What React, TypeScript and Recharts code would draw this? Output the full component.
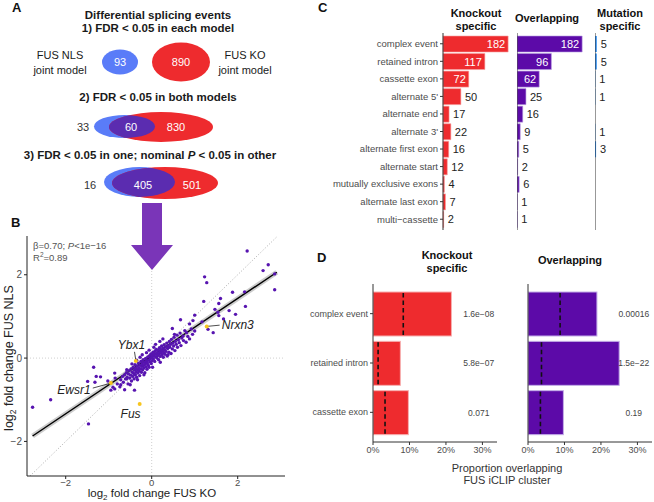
import React from 'react';
import {
  ScatterChart, Scatter, BarChart, Bar, XAxis, YAxis, ReferenceLine, LabelList,
} from 'recharts';

const FONT = '"Liberation Sans", Arial, Helvetica, sans-serif';
const KO_COLOR = '#ee2b2e';
const OV_COLOR = '#5c0aa8';
const MUT_COLOR = '#2a8df2';
const DOT_COLOR = '#5714b0';
const HL_COLOR = '#f7c51e';
const NLS_COLOR = '#5a7cf8';
const VENN_OVERLAP = '#5b2cb0';

// ---- panel B: scatter of log2 fold changes (KO, NLS)
const outlierPts = [
  [2.22, 2.57], [2.71, 2.24], [2.59, 2.10], [2.86, 2.02], [2.86, 1.64], [1.23, 1.95], [1.28, 1.81],
  [1.88, 1.58], [2.16, 1.59], [1.60, 1.43], [1.56, 1.31], [1.21, 1.36], [2.18, 1.24], [1.95, 1.05],
  [1.80, 1.14], [1.54, 1.10], [1.56, 1.02], [1.47, 1.17], [1.0, 1.03], [1.67, 0.94], [0.67, 0.92],
  [0.96, 0.90], [0.88, 0.82], [1.17, 0.87], [1.31, 0.69], [1.43, 0.61], [1.0, 0.65], [0.81, 0.61],
  [0.48, 0.71], [0.53, 0.57], [0.73, 0.53],
  [-2.77, -1.18], [-2.35, -1.0], [-1.47, -1.58], [-1.35, -0.22], [-1.29, -0.44], [-1.49, -0.56],
  [-1.32, -0.58], [-1.19, -0.45], [-1.02, -0.55], [-0.86, -0.36], [-0.95, -0.77], [-0.72, -0.64],
  [-0.63, -0.76], [-0.40, -0.77], [-0.74, -0.69], [-0.58, -0.50], [-0.86, -0.74],
];
const clusterPts = [
  [-0.72, -0.52], [-0.68, -0.44], [-0.66, -0.58], [-0.63, -0.40], [-0.61, -0.50], [-0.59, -0.35],
  [-0.57, -0.46], [-0.55, -0.62], [-0.54, -0.38], [-0.52, -0.30], [-0.51, -0.48], [-0.49, -0.41],
  [-0.48, -0.26], [-0.47, -0.55], [-0.45, -0.34], [-0.44, -0.44], [-0.43, -0.22], [-0.42, -0.37],
  [-0.41, -0.50], [-0.40, -0.29], [-0.39, -0.16], [-0.38, -0.40], [-0.37, -0.25], [-0.36, -0.33],
  [-0.35, -0.46], [-0.34, -0.19], [-0.33, -0.28], [-0.32, -0.36], [-0.31, -0.12], [-0.30, -0.23],
  [-0.29, -0.31], [-0.28, -0.42], [-0.27, -0.17], [-0.26, -0.26], [-0.25, -0.08], [-0.24, -0.34],
  [-0.23, -0.20], [-0.22, -0.13], [-0.21, -0.28], [-0.20, -0.04], [-0.19, -0.18], [-0.18, -0.24],
  [-0.17, -0.10], [-0.16, -0.35], [-0.15, -0.15], [-0.14, -0.01], [-0.13, -0.21], [-0.12, -0.07],
  [-0.11, -0.27], [-0.10, -0.12], [-0.09, 0.03], [-0.08, -0.17], [-0.07, -0.05], [-0.06, -0.22],
  [-0.05, 0.06], [-0.04, -0.09], [-0.03, -0.01], [-0.02, 0.10], [-0.01, -0.13], [0.00, 0.02],
  [0.01, -0.06], [0.02, 0.08], [0.03, 0.14], [0.04, -0.02], [0.05, 0.05], [0.06, 0.11],
  [0.07, -0.08], [0.08, 0.17], [0.09, 0.03], [0.10, 0.09], [0.11, 0.21], [0.12, 0.00],
  [0.13, 0.13], [0.14, 0.06], [0.15, 0.19], [0.16, -0.04], [0.17, 0.10], [0.18, 0.25],
  [0.19, 0.15], [0.20, 0.04], [0.21, 0.20], [0.22, 0.12], [0.23, 0.29], [0.24, 0.08],
  [0.25, 0.17], [0.26, 0.24], [0.27, 0.02], [0.28, 0.13], [0.29, 0.32], [0.30, 0.20],
  [0.31, 0.09], [0.32, 0.27], [0.33, 0.16], [0.35, 0.36], [0.36, 0.05], [0.37, 0.23],
  [0.38, 0.30], [0.40, 0.14], [0.41, 0.40], [0.42, 0.26], [0.44, 0.33], [0.45, 0.11],
  [0.46, 0.45], [0.48, 0.22], [0.49, 0.36], [0.51, 0.29], [0.52, 0.50], [0.54, 0.18],
  [0.55, 0.40], [0.57, 0.33], [0.59, 0.55], [0.60, 0.26], [0.62, 0.44], [0.64, 0.37],
  [0.66, 0.60], [0.68, 0.30], [0.70, 0.48], [0.74, 0.42], [0.77, 0.66], [0.80, 0.38],
  [0.84, 0.52], [0.88, 0.46], [0.92, 0.70], [0.95, 0.57], [-0.80, -0.62], [-0.85, -0.48],
  [-0.90, -0.70], [-0.22, 0.08], [-0.06, 0.19], [0.09, 0.33], [0.19, 0.40], [-0.35, -0.05],
  [-0.58, -0.28], [-0.46, -0.14], [-0.27, 0.02], [-0.12, 0.13], [0.05, 0.26], [0.26, 0.46],
  [-0.50, -0.64], [-0.33, -0.52], [-0.18, -0.40], [0.02, -0.22], [0.20, -0.10], [0.38, 0.08],
];
const genePts = [
  { x: 1.28, y: 0.76 }, { x: -0.37, y: -0.07 }, { x: -0.95, y: -0.60 }, { x: -0.28, y: -1.10 },
];
const geneLabels = [
  { x: 1.63, y: 0.69, label: 'Nrxn3', anchor: 'start' },
  { x: -0.47, y: 0.21, label: 'Ybx1', anchor: 'middle' },
  { x: -1.42, y: -0.86, label: 'Ewsr1', anchor: 'end' },
  { x: -0.49, y: -1.43, label: 'Fus', anchor: 'middle' },
];
const leaders = [
  [[1.28, 0.76], [1.58, 0.79]],
  [[-0.40, 0.15], [-0.37, -0.05]],
  [[-1.37, -0.72], [-0.98, -0.61]],
];
const regLine = [[-2.77, -1.87], [2.91, 2.06]];
const X_DOMAIN = [-2.9, 3.1];
const Y_DOMAIN = [-2.83, 2.93];
const scatterTicks = [-2, 0, 2];

// ---- panel C: event type counts
const eventTypes = [
  'complex event', 'retained intron', 'cassette exon', "alternate 5'", 'alternate end', "alternate 3'",
  'alternate first exon', 'alternate start', 'mutually exclusive exons', 'alternate last exon', 'multi−cassette',
];
const koCounts = [182, 117, 72, 50, 17, 22, 16, 12, 4, 7, 2];
const ovCounts = [182, 96, 62, 25, 16, 9, 5, 2, 6, 1, 1];
const mutCounts = [5, 5, 1, 1, null, 1, 3, null, null, null, null];

// ---- panel D: proportion overlapping FUS iCLIP cluster
const dCats = ['complex event', 'retained intron', 'cassette exon'];
const koProp = [0.215, 0.075, 0.097];
const koExpected = [0.083, 0.014, 0.033];
const koP = ['1.6e−08', '5.8e−07', '0.071'];
const ovProp = [0.189, 0.25, 0.097];
const ovExpected = [0.088, 0.037, 0.034];
const ovP = ['0.00016', '1.5e−22', '0.19'];
const pctTicks = [0, 0.1, 0.2, 0.3];
const P_POS = 0.29;

const toXY = (pts: number[][]) => pts.map(([x, y]) => ({ x, y }));
const minus = (v: number) => (v < 0 ? `−${Math.abs(v)}` : `${v}`);

const countLabel = (thr: number) => (p: any) => {
  const { x, y, width, height, value } = p;
  if (value === null || value === undefined || value === '') return null;
  const inside = Number(value) >= thr;
  return (
    <text
      x={inside ? x + width - 3 : x + width + 4}
      y={y + height / 2}
      dy="0.36em"
      textAnchor={inside ? 'end' : 'start'}
      fill={inside ? '#fff' : '#222'}
      fontSize={11}
      fontFamily={FONT}
    >
      {value}
    </text>
  );
};

const catTick = (size: number) => (p: any) => (
  <text x={p.x} y={p.y} dy="0.35em" textAnchor="end" fontSize={size} fill="#4d4d4d" fontFamily={FONT}>
    {p.payload.value}
  </text>
);

const propShape = (fill: string, stroke: string, expected: number[], props: number[]) => (p: any) => {
  const { x, y, width, height, index } = p;
  const ex = x + (width * expected[index]) / props[index];
  return (
    <g>
      <rect x={x} y={y} width={width} height={height} fill={fill} stroke={stroke} strokeWidth={1} />
      <line x1={ex} x2={ex} y1={y + 1} y2={y + height - 1} stroke="#111" strokeWidth={1.6} strokeDasharray="4.5 3" />
    </g>
  );
};

const pLabel = (labels: string[], props: number[]) => (p: any) => {
  const { x, y, width, height, index } = p;
  return (
    <text x={x + (width * P_POS) / props[index]} y={y + height / 2} dy="0.36em" textAnchor="middle" fontSize={8.5} fill="#444" fontFamily={FONT}>
      {labels[index]}
    </text>
  );
};

const tickStyle = { fontSize: 9.5, fill: '#4d4d4d', fontFamily: FONT };

export default function App() {
  const cData = eventTypes.map((cat, i) => ({ cat, ko: koCounts[i], ov: ovCounts[i], mut: mutCounts[i] }));
  const dData = dCats.map((cat, i) => ({ cat, ko: koProp[i], ov: ovProp[i] }));

  return (
    <div style={{ position: 'absolute', left: 0, top: 0, width: 654, height: 502, background: '#fff', fontFamily: FONT, overflow: 'hidden' }}>
      {/* panel B scatter */}
      <div style={{ position: 'absolute', left: 0, top: 215 }}>
        <ScatterChart width={300} height={287} margin={{ top: 21, right: 15, bottom: 0, left: 0 }}>
          <XAxis type="number" dataKey="x" domain={X_DOMAIN} ticks={scatterTicks} allowDataOverflow height={26}
            tick={{ ...tickStyle, fontSize: 9.5 }} tickSize={3} tickMargin={0} stroke="#222" tickFormatter={minus} />
          <YAxis type="number" dataKey="y" domain={Y_DOMAIN} ticks={scatterTicks} allowDataOverflow width={27}
            tick={{ ...tickStyle, fontSize: 10 }} tickSize={3} stroke="#222" tickFormatter={minus} />
          <ReferenceLine x={0} stroke="#cfcfcf" strokeDasharray="1 2" />
          <ReferenceLine y={0} stroke="#cfcfcf" strokeDasharray="1 2" />
          <ReferenceLine segment={[{ x: Y_DOMAIN[0], y: Y_DOMAIN[0] }, { x: Y_DOMAIN[1], y: Y_DOMAIN[1] }]} stroke="#aaa" strokeDasharray="1 2" />
          <Scatter data={toXY(clusterPts)} isAnimationActive={false}
            shape={(p: any) => <circle cx={p.cx} cy={p.cy} r={1.7} fill={DOT_COLOR} />} />
          <Scatter data={toXY(outlierPts)} isAnimationActive={false}
            shape={(p: any) => <circle cx={p.cx} cy={p.cy} r={1.7} fill={DOT_COLOR} />} />
          <ReferenceLine segment={toXY(regLine)} stroke="#cccccc" strokeWidth={5} />
          <ReferenceLine segment={toXY(regLine)} stroke="#000" strokeWidth={1.4} />
          {leaders.map((l, i) => (
            <ReferenceLine key={i} segment={toXY(l)} stroke="#222" strokeWidth={0.8} />
          ))}
          <Scatter data={genePts} isAnimationActive={false}
            shape={(p: any) => <circle cx={p.cx} cy={p.cy} r={2} fill={HL_COLOR} />} />
          <Scatter data={geneLabels} isAnimationActive={false}
            shape={(p: any) => (
              <text x={p.cx} y={p.cy} textAnchor={p.payload.anchor} fontSize={12} fontStyle="italic" fill="#222" fontFamily={FONT}>
                {p.payload.label}
              </text>
            )} />
        </ScatterChart>
      </div>

      {/* panel C facets */}
      <div style={{ position: 'absolute', left: 320, top: 33 }}>
        <BarChart layout="vertical" width={191} height={197} data={cData} margin={{ top: 0, right: 0, bottom: 0, left: 0 }} barSize={16}>
          <XAxis type="number" hide domain={[0, 190]} />
          <YAxis type="category" dataKey="cat" width={123} tick={catTick(9.5)} tickSize={3} stroke="#333" padding={{ top: 2, bottom: 2 }} interval={0} />
          <Bar dataKey="ko" fill={KO_COLOR} stroke="#f7a3a3" strokeWidth={0.6} isAnimationActive={false}>
            <LabelList dataKey="ko" content={countLabel(60)} />
          </Bar>
        </BarChart>
      </div>
      <div style={{ position: 'absolute', left: 517, top: 33 }}>
        <BarChart layout="vertical" width={68} height={197} data={cData} margin={{ top: 0, right: 0, bottom: 0, left: 0 }} barSize={16}>
          <XAxis type="number" hide domain={[0, 190]} />
          <YAxis type="category" dataKey="cat" hide padding={{ top: 2, bottom: 2 }} />
          <ReferenceLine x={0} stroke="#333" />
          <Bar dataKey="ov" fill={OV_COLOR} stroke="#b59be0" strokeWidth={0.6} isAnimationActive={false}>
            <LabelList dataKey="ov" content={countLabel(60)} />
          </Bar>
        </BarChart>
      </div>
      <div style={{ position: 'absolute', left: 595, top: 33 }}>
        <BarChart layout="vertical" width={59} height={197} data={cData} margin={{ top: 0, right: 0, bottom: 0, left: 0 }} barSize={16}>
          <XAxis type="number" hide domain={[0, 165]} />
          <YAxis type="category" dataKey="cat" hide padding={{ top: 2, bottom: 2 }} />
          <ReferenceLine x={0} stroke="#333" />
          <Bar dataKey="mut" fill={MUT_COLOR} isAnimationActive={false}>
            <LabelList dataKey="mut" content={countLabel(60)} />
          </Bar>
        </BarChart>
      </div>

      {/* panel D facets */}
      <div style={{ position: 'absolute', left: 300, top: 284 }}>
        <BarChart layout="vertical" width={205} height={178} data={dData} margin={{ top: 0, right: 8, bottom: 0, left: 0 }} barSize={44}>
          <XAxis type="number" domain={[0, 0.34]} ticks={pctTicks} allowDataOverflow height={20} tick={{ ...tickStyle, fontSize: 9 }}
            tickSize={3} stroke="#333" tickFormatter={(v: number) => `${Math.round(v * 100)}%`} />
          <YAxis type="category" dataKey="cat" width={73} tick={catTick(9)} tickSize={3} stroke="#333"
            padding={{ top: 5, bottom: 5 }} interval={0} />
          <Bar dataKey="ko" isAnimationActive={false} shape={propShape(KO_COLOR, '#f7b0b0', koExpected, koProp)}>
            <LabelList dataKey="ko" content={pLabel(koP, koProp)} />
          </Bar>
        </BarChart>
      </div>
      <div style={{ position: 'absolute', left: 518, top: 284 }}>
        <BarChart layout="vertical" width={136} height={178} data={dData} margin={{ top: 0, right: 2, bottom: 0, left: 10 }} barSize={44}>
          <XAxis type="number" domain={[0, 0.34]} ticks={pctTicks} allowDataOverflow height={20} tick={{ ...tickStyle, fontSize: 9 }}
            tickSize={3} stroke="#333" tickFormatter={(v: number) => `${Math.round(v * 100)}%`} />
          <YAxis type="category" dataKey="cat" hide padding={{ top: 5, bottom: 5 }} />
          <ReferenceLine x={0} stroke="#333" />
          <Bar dataKey="ov" isAnimationActive={false} shape={propShape(OV_COLOR, '#c4aee8', ovExpected, ovProp)}>
            <LabelList dataKey="ov" content={pLabel(ovP, ovProp)} />
          </Bar>
        </BarChart>
      </div>

      {/* panel A, arrow, titles */}
      <svg width={654} height={502} style={{ position: 'absolute', left: 0, top: 0, pointerEvents: 'none' }} fontFamily={FONT}>
        <defs>
          <clipPath id="red2"><ellipse cx={161} cy={127} rx={52} ry={15} /></clipPath>
          <clipPath id="red3"><ellipse cx={165} cy={183} rx={53} ry={16} /></clipPath>
        </defs>
        <g fontWeight="bold" fontSize={13} fill="#111">
          <text x={12} y={12}>A</text>
          <text x={11} y={227}>B</text>
          <text x={318} y={12}>C</text>
          <text x={317} y={262}>D</text>
        </g>
        <g fontSize={11.5} fontWeight="bold" fill="#1a1a1a" textAnchor="middle">
          <text x={158} y={19}>Differential splicing events</text>
          <text x={158} y={32}>1) FDR &lt; 0.05 in each model</text>
          <text x={158} y={101}>2) FDR &lt; 0.05 in both models</text>
          <text x={150} y={159}>3) FDR &lt; 0.05 in one; nominal <tspan fontStyle="italic">P</tspan> &lt; 0.05 in other</text>
        </g>
        <g fontSize={11} fill="#1a1a1a" textAnchor="middle">
          <text x={60} y={59}>FUS NLS</text>
          <text x={60} y={74}>joint model</text>
          <text x={245} y={59}>FUS KO</text>
          <text x={245} y={74}>joint model</text>
        </g>
        <ellipse cx={120} cy={62} rx={18} ry={12.5} fill={NLS_COLOR} />
        <ellipse cx={181} cy={62} rx={29} ry={19.5} fill={KO_COLOR} />
        <ellipse cx={124.5} cy={126.5} rx={30.5} ry={11.5} fill={NLS_COLOR} />
        <ellipse cx={161} cy={127} rx={52} ry={15} fill={KO_COLOR} />
        <ellipse cx={124.5} cy={126.5} rx={30.5} ry={11.5} fill={VENN_OVERLAP} clipPath="url(#red2)" />
        <ellipse cx={139.5} cy={182} rx={35.5} ry={15} fill={NLS_COLOR} />
        <ellipse cx={165} cy={183} rx={53} ry={16} fill={KO_COLOR} />
        <ellipse cx={139.5} cy={182} rx={35.5} ry={15} fill={VENN_OVERLAP} clipPath="url(#red3)" />
        <g fontSize={11} textAnchor="middle">
          <text x={120} y={66} fill="#fff">93</text>
          <text x={181} y={66} fill="#fff">890</text>
          <text x={83} y={131} fill="#333">33</text>
          <text x={131} y={131} fill="#fff">60</text>
          <text x={176} y={131} fill="#fff">830</text>
          <text x={90} y={189} fill="#333">16</text>
          <text x={143} y={189} fill="#fff">405</text>
          <text x={192} y={189} fill="#fff">501</text>
        </g>
        <polygon points="142,203 162,203 162,245 173,245 152,270 131,245 142,245" fill="#7a35b8" />
        <g fontSize={9.5} fill="#555">
          <text x={33} y={249}>β=0.70; <tspan fontStyle="italic">P</tspan>&lt;1e−16</text>
          <text x={33} y={261}>R<tspan fontSize={6.5} dy={-4}>2</tspan><tspan dy={4}>=0.89</tspan></text>
        </g>
        <text x={152} y={497} fontSize={11.5} fill="#222" textAnchor="middle">log<tspan fontSize={8} dy={2.5}>2</tspan><tspan dy={-2.5}> fold change FUS KO</tspan></text>
        <text transform="translate(13,358) rotate(-90)" fontSize={12.5} fill="#222" textAnchor="middle">log<tspan fontSize={8.5} dy={3}>2</tspan><tspan dy={-3}> fold change  FUS NLS</tspan></text>
        <g fontSize={11} fontWeight="bold" fill="#111" textAnchor="middle">
          <text x={476} y={17}>Knockout</text>
          <text x={476} y={30}>specific</text>
          <text x={547} y={22}>Overlapping</text>
          <text x={620} y={17}>Mutation</text>
          <text x={620} y={30}>specific</text>
          <text x={447} y={259}>Knockout</text>
          <text x={447} y={272}>specific</text>
          <text x={570} y={264}>Overlapping</text>
        </g>
        <g fontSize={11} fill="#333" textAnchor="middle">
          <text x={507} y={472}>Proportion overlapping</text>
          <text x={507} y={484}>FUS iCLIP cluster</text>
        </g>
      </svg>
    </div>
  );
}
